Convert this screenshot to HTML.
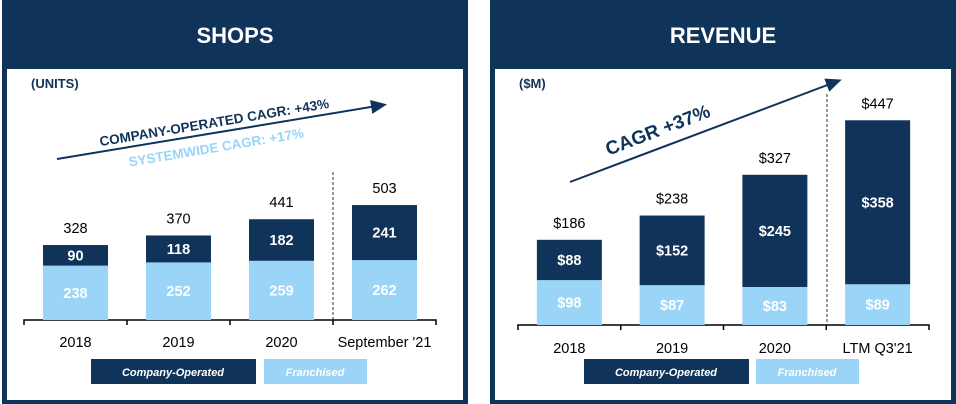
<!DOCTYPE html>
<html><head><meta charset="utf-8"><style>
html,body{margin:0;padding:0;background:#fff;}
svg{display:block;font-family:"Liberation Sans",sans-serif;}
</style></head><body>
<svg id="c" width="956" height="404" viewBox="0 0 956 404">
<defs><marker id="ah" markerWidth="8" markerHeight="8" refX="6" refY="4" orient="auto"><path d="M0,0.5 L8,4 L0,7.5 Z" fill="#10335a"/></marker></defs>
<g>
<rect x="2" y="0" width="466" height="404" fill="#10335a"/>
<rect x="7" y="69" width="456" height="331" fill="#fff"/>
<text x="235" y="43" text-anchor="middle" fill="#fff" font-size="22" font-weight="bold">SHOPS</text>
<text x="31" y="88" fill="#10335a" font-size="13" font-weight="bold">(UNITS)</text>
<line x1="57" y1="159" x2="383" y2="105" stroke="#10335a" stroke-width="2" marker-end="url(#ah)"/>
<text transform="translate(215,127) rotate(-9.5)" text-anchor="middle" fill="#10335a" font-size="13.5" font-weight="bold">COMPANY-OPERATED CAGR: +43%</text>
<text transform="translate(217,152) rotate(-9.5)" text-anchor="middle" fill="#9ad5f7" font-size="13.5" font-weight="bold">SYSTEMWIDE CAGR: +17%</text>
<line x1="333" y1="172" x2="333" y2="320" stroke="#333" stroke-width="1" stroke-dasharray="3,2"/>
<g id="shopsBars"></g>
<rect x="91" y="359" width="165" height="25" fill="#10335a"/>
<text x="173" y="376" text-anchor="middle" fill="#fff" font-size="11" font-weight="bold" font-style="italic">Company-Operated</text>
<rect x="264" y="359" width="103" height="25" fill="#9ad5f7"/>
<text x="315" y="376" text-anchor="middle" fill="#fff" font-size="11" font-weight="bold" font-style="italic">Franchised</text>
</g>
<g>
<rect x="490" y="0" width="466" height="404" fill="#10335a"/>
<rect x="495" y="69" width="456" height="331" fill="#fff"/>
<text x="723" y="43" text-anchor="middle" fill="#fff" font-size="22" font-weight="bold">REVENUE</text>
<text x="519" y="88" fill="#10335a" font-size="13" font-weight="bold">($M)</text>
<line x1="570" y1="182" x2="838" y2="81" stroke="#10335a" stroke-width="2" marker-end="url(#ah)"/>
<text transform="translate(660,136) rotate(-21)" text-anchor="middle" fill="#10335a" font-size="19" font-weight="bold">CAGR +37%</text>
<line x1="827" y1="94" x2="827" y2="324" stroke="#333" stroke-width="1" stroke-dasharray="3,2"/>
<g id="revBars"></g>
<rect x="584" y="359" width="165" height="25" fill="#10335a"/>
<text x="666" y="376" text-anchor="middle" fill="#fff" font-size="11" font-weight="bold" font-style="italic">Company-Operated</text>
<rect x="756" y="359" width="103" height="25" fill="#9ad5f7"/>
<text x="807" y="376" text-anchor="middle" fill="#fff" font-size="11" font-weight="bold" font-style="italic">Franchised</text>
</g>
</svg>
<script>
const shopCategories = ["2018","2019","2020","September '21"];
const shopFranchised = [238,252,259,262];
const shopCompany = [90,118,182,241];
const shopTotals = [328,370,441,503];
const revCategories = ["2018","2019","2020","LTM Q3'21"];
const revFranchised = [98,87,83,89];
const revCompany = [88,152,245,358];
const revTotals = [186,238,327,447];
const NS="http://www.w3.org/2000/svg";
function mk(g,tag,attrs,txt){const e=document.createElementNS(NS,tag);for(const k in attrs)e.setAttribute(k,attrs[k]);if(txt!==undefined)e.textContent=txt;g.appendChild(e);return e;}
function draw(gid,cats,fr,co,tot,x0,step,base,scale,prefix,catY,pfx){
  const g=document.getElementById(gid);
  const axis=mk(g,'path',{d:`M${x0},${base+5} V${base} H${x0+step*4} V${base+5} M${x0+step},${base} v5 M${x0+2*step},${base} v5 M${x0+3*step},${base} v5`,stroke:'#000','stroke-width':1.5,fill:'none'});
  
  
  const y=v=>v*scale;
  cats.forEach((c,i)=>{
    const cx=x0+step*i+step/2, bx=cx-32.5;
    const hf=y(fr[i]), hc=y(co[i]);
    const r1=mk(g,'rect',{x:bx,y:base-hf,width:65,height:hf,fill:'#9ad5f7'});
    
    
    const r2=mk(g,'rect',{x:bx,y:base-hf-hc,width:65,height:hc,fill:'#10335a'});
    
    
    const t1=mk(g,'text',{x:cx,y:base-hf/2+5,'text-anchor':'middle',fill:'#fff','font-size':14.5,'font-weight':'bold'},prefix+fr[i]);
    
    
    const t2=mk(g,'text',{x:cx,y:base-hf-hc/2+5,'text-anchor':'middle',fill:'#fff','font-size':14.5,'font-weight':'bold'},prefix+co[i]);
    
    
    const t3=mk(g,'text',{x:cx,y:base-hf-hc-12,'text-anchor':'middle',fill:'#000','font-size':14.5},prefix+tot[i]);
    
    
    const t4=mk(g,'text',{x:cx,y:catY,'text-anchor':'middle',fill:'#000','font-size':14.5},c);
    
    
  });
}
draw('shopsBars',shopCategories,shopFranchised,shopCompany,shopTotals,24,103,320,0.2285,'',347,'shops');
draw('revBars',revCategories,revFranchised,revCompany,revTotals,518,102.75,325,0.458,'$',353,'revenue');
</script>
</body></html>
